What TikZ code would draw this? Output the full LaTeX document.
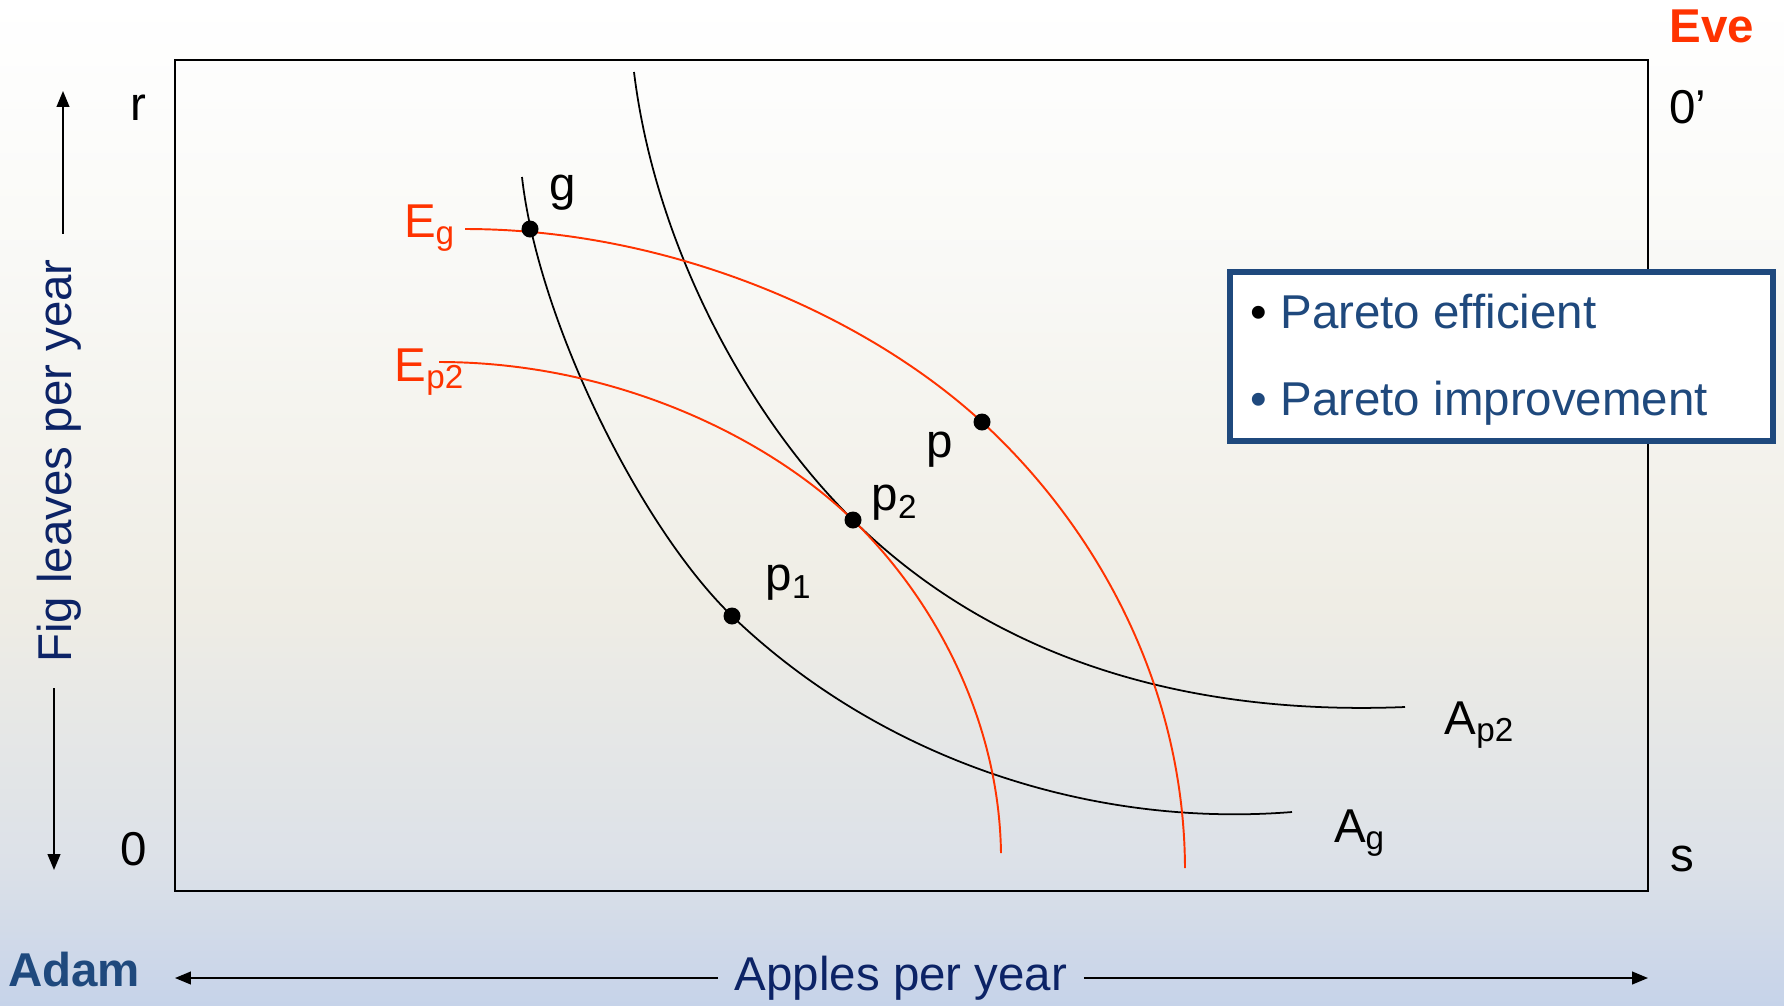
\documentclass[tikz,border=0pt]{standalone}
\usepackage{fontspec}
\setmainfont{Liberation Sans}
\usepackage{xcolor}
\usetikzlibrary{arrows.meta, positioning, fit}

\definecolor{everd}{HTML}{FF3300}
\definecolor{adamblue}{HTML}{1F497D}
\definecolor{axisnavy}{HTML}{0C2366}
\definecolor{bgblue}{HTML}{C6D3E9}
\definecolor{bglow}{HTML}{DCE1E8}
\definecolor{bgbeige}{HTML}{EFEDE5}
\definecolor{bghigh}{HTML}{F9F9F6}
% the middle 50bp of the shading cover the picture
\pgfdeclareverticalshading{slidebg}{100bp}{color(0bp)=(bgblue); color(25bp)=(bgblue); color(32bp)=(bglow); color(45bp)=(bgbeige); color(62bp)=(bghigh); color(75bp)=(white); color(100bp)=(white)}

\begin{document}
\begin{tikzpicture}[x=0.01cm, y=-0.01cm, >={Triangle[length=4.5pt,width=3.6pt]},
  font=\fontsize{13.5}{16}\selectfont,
  dot/.style={circle, fill=black, inner sep=0pt, minimum size=0.17cm},
  indiff/.style={black, line width=0.5pt},
  evecurve/.style={everd, line width=0.55pt},
  lbl/.style={inner sep=1pt}]
  \shade[shading=slidebg] (0,0) rectangle (1784,1005);
  \useasboundingbox (0,0) rectangle (1784,1005);

  % Edgeworth box
  \coordinate (boxsw) at (175,891);
  \coordinate (boxne) at (1648,60);
  \draw[line width=0.7pt] (boxsw) rectangle (boxne);
  \node[lbl] (rlab) at (138,108) {r};
  \node[lbl] (olab) at (134,849) {0};
  \node[lbl] (slab) at (1682,859) {s};
  \node[lbl] (oplab) at (1688,107) {0’};
  \node[lbl, text=everd, font=\fontsize{13.5}{16}\selectfont\bfseries] (eve) at (1712,26) {Eve};
  \node[lbl, text=adamblue, font=\fontsize{13.5}{16}\selectfont\bfseries] (adam) at (74,970) {Adam};

  % axes
  \node[text=axisnavy, inner sep=4.5pt] (apples) at (901,978) {Apples per year};
  \coordinate (xl) at (175,978);
  \coordinate (xr) at (1648,978);
  \draw[->, line width=0.5pt] (apples.west) -- (xl);
  \draw[->, line width=0.5pt] (apples.east) -- (xr);
  \node[text=axisnavy, rotate=90, inner sep=7pt] (figs) at (59,461) {Fig leaves per year};
  \coordinate (yt) at (63,91);
  \coordinate (yb) at (54,870);
  \draw[->, line width=0.5pt] (figs.east -| yt) -- (yt);
  \draw[->, line width=0.5pt] (figs.west -| yb) -- (yb);

  % allocations
  \coordinate (gpt) at (530,229);
  \coordinate (ppt) at (982,422);
  \coordinate (ptwopt) at (853,520);
  \coordinate (ponept) at (732,616);

  % Adam's indifference curves
  \draw[indiff] (522,177) .. controls (538,320) and (640,527) .. (ponept)
    .. controls (882,760) and (1092,828) .. (1292,812);
  \draw[indiff] (634,72) .. controls (656,252) and (753,422) .. (ptwopt)
    .. controls (993,658) and (1185,716) .. (1405,707);
  % Eve's indifference curves
  \draw[evecurve] (465,229) .. controls (665,229) and (862,312) .. (ppt)
    .. controls (1092,523) and (1184,680) .. (1185,868);
  \draw[evecurve] (439,362) .. controls (609,362) and (763,433) .. (ptwopt)
    .. controls (935,600) and (999,720) .. (1001,853);

  \node[dot] (g) at (gpt) {};
  \node[dot] (p) at (ppt) {};
  \node[dot] (ptwo) at (ptwopt) {};
  \node[dot] (pone) at (ponept) {};
  \node[lbl] (glab) at (563,193) {g};
  \node[lbl] (plab) at (940,450) {p};
  \node[lbl] (ptwolab) at (895,503) {p\textsubscript{2}};
  \node[lbl] (ponelab) at (789,583) {p\textsubscript{1}};
  \node[lbl, text=everd] (eglab) at (430,228) {E\textsubscript{g}};
  \node[lbl, text=everd] (ep2lab) at (430,372) {E\textsubscript{p2}};
  \node[lbl] (ap2lab) at (1480,725) {A\textsubscript{p2}};
  \node[lbl] (aglab) at (1360,833) {A\textsubscript{g}};

  % legend
  \node[draw=adamblue, line width=1.7pt, fill=white, minimum width=5.43cm, minimum height=1.69cm] (legend) at (1501.5,356.5) {};
  \node[anchor=base west, text=adamblue, inner sep=0pt] (effic) at (1250,328) {\textcolor{black}{\textbullet} Pareto efficient};
  \node[anchor=base west, text=adamblue, inner sep=0pt] (improv) at (1250,415) {\textbullet{} Pareto improvement};
\end{tikzpicture}
\end{document}
